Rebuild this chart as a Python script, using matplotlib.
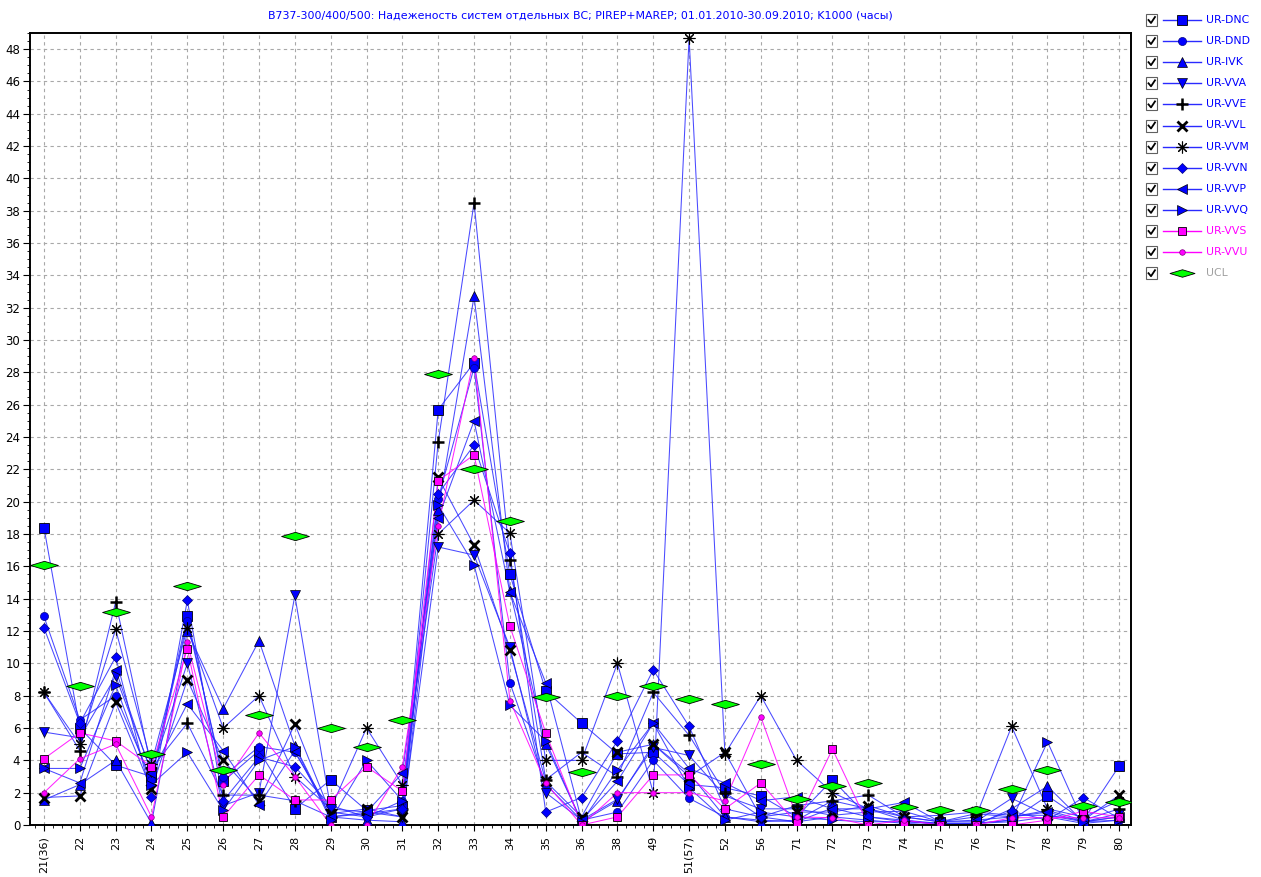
import numpy as np
import matplotlib
matplotlib.use("Agg")
import matplotlib.pyplot as plt
from matplotlib.path import Path
from matplotlib.lines import Line2D
from matplotlib.patches import Rectangle

categories = ["21(36)", "22", "23", "24", "25", "26", "27", "28", "29", "30", "31",
              "32", "33", "34", "35", "36", "38", "49", "51(57)", "52", "56", "71",
              "72", "73", "74", "75", "76", "77", "78", "79", "80"]

ur_dnc = [18.4, 6.0, 3.7, 3.0, 12.9, 2.7, 4.6, 1.0, 2.8, 0.9, 1.2, 25.7, 28.6, 15.5, 8.3, 6.3,
          4.4, 4.5, 2.5, 2.3, 1.8, 0.5, 2.8, 0.5, 0.2, 0.1, 0.1, 0.3, 1.8, 0.3, 3.65]
ur_dnd = [12.9, 6.5, 8.0, 2.8, 12.6, 3.0, 4.85, 4.5, 0.8, 0.5, 1.5, 20.2, 28.3, 8.8, 2.5, 0.3,
          0.8, 4.0, 1.65, 0.5, 0.3, 0.2, 0.5, 0.3, 0.1, 0.0, 0.1, 0.2, 0.5, 0.1, 0.3]
ur_ivk = [1.55, 2.5, 4.0, 0.1, 12.0, 7.2, 11.4, 4.9, 0.5, 0.3, 0.2, 19.5, 32.7, 14.5, 5.0, 0.2,
          1.5, 5.0, 3.2, 0.5, 0.2, 0.3, 1.5, 1.0, 0.3, 0.0, 0.0, 1.0, 2.4, 0.2, 0.5]
ur_vva = [5.75, 5.4, 9.2, 3.3, 10.0, 1.2, 2.0, 14.2, 1.0, 0.8, 0.5, 17.2, 16.7, 11.0, 2.0, 0.3,
          1.6, 4.8, 4.3, 1.8, 1.0, 1.0, 0.6, 0.8, 0.85, 0.2, 0.2, 1.65, 0.6, 0.2, 0.7]
ur_vve = [8.2, 4.6, 13.8, 3.5, 6.3, 1.85, 1.85, 1.5, 0.5, 0.7, 1.0, 23.7, 38.5, 16.4, 2.8, 4.5,
          3.0, 8.2, 5.55, 2.0, 0.5, 1.2, 1.5, 1.85, 0.5, 0.2, 0.7, 0.5, 0.9, 0.3, 1.0]
ur_vvl = [1.7, 1.8, 7.6, 2.2, 9.0, 4.0, 1.5, 6.25, 0.7, 1.0, 0.5, 21.5, 17.3, 10.8, 2.7, 0.5,
          4.5, 5.0, 3.0, 4.5, 0.5, 0.8, 0.8, 1.2, 0.5, 0.6, 0.8, 0.6, 0.6, 0.3, 1.85]
ur_vvm = [8.2, 5.0, 12.1, 3.8, 12.2, 6.0, 8.0, 3.0, 1.0, 6.0, 2.5, 18.0, 20.1, 18.05, 4.0, 4.0,
          10.0, 2.0, 48.7, 4.4, 8.0, 4.0, 2.0, 1.0, 0.5, 0.2, 0.5, 6.1, 1.0, 0.5, 1.5]
ur_vvn = [12.2, 6.3, 10.4, 1.75, 13.9, 1.5, 4.2, 3.6, 1.2, 0.5, 1.0, 20.5, 23.5, 16.8, 0.8, 1.7,
          5.2, 9.6, 6.1, 1.0, 0.5, 0.2, 1.05, 0.5, 0.3, 0.1, 0.1, 0.85, 0.3, 1.7, 0.4]
ur_vvp = [3.5, 2.6, 9.6, 3.2, 7.5, 4.6, 1.25, 4.6, 0.5, 0.8, 3.2, 19.0, 25.0, 14.4, 8.8, 0.3,
          2.7, 6.3, 3.5, 2.6, 1.5, 1.75, 1.0, 1.0, 1.4, 0.2, 0.3, 0.5, 0.8, 0.2, 0.5]
ur_vvq = [3.5, 3.5, 8.65, 2.5, 4.5, 0.9, 4.0, 4.85, 0.3, 4.0, 1.5, 19.8, 16.1, 7.4, 5.2, 0.2,
          3.4, 6.3, 2.3, 0.3, 0.8, 0.5, 0.3, 0.2, 0.2, 0.1, 0.1, 0.3, 5.15, 0.2, 0.3]
ur_vvs = [4.1, 5.7, 5.2, 3.6, 10.9, 0.5, 3.1, 1.55, 1.55, 3.6, 2.1, 21.3, 22.9, 12.3, 5.7, 0.0,
          0.5, 3.1, 3.1, 1.0, 2.6, 0.1, 4.7, 0.0, 0.0, 0.0, 0.0, 0.0, 0.3, 0.85, 0.5]
ur_vvu = [2.0, 4.1, 5.0, 0.5, 11.3, 2.5, 5.7, 3.0, 0.0, 0.0, 3.6, 18.5, 28.9, 7.7, 2.6, 0.0,
          2.0, 2.0, 2.0, 1.5, 6.7, 0.5, 0.45, 0.0, 0.3, 0.0, 0.0, 0.45, 0.45, 0.45, 0.45]
ucl = [16.1, 8.6, 13.2, 4.4, 14.8, 3.4, 6.8, 17.9, 6.0, 4.8, 6.5, 27.9, 22.0, 18.8, 7.9, 3.3,
       8.0, 8.6, 7.8, 7.5, 3.8, 1.6, 2.4, 2.6, 1.1, 0.9, 0.9, 2.2, 3.4, 1.2, 1.4]

names = ["UR-DNC", "UR-DND", "UR-IVK", "UR-VVA", "UR-VVE", "UR-VVL", "UR-VVM",
         "UR-VVN", "UR-VVP", "UR-VVQ", "UR-VVS", "UR-VVU"]
values = [ur_dnc, ur_dnd, ur_ivk, ur_vva, ur_vve, ur_vvl, ur_vvm, ur_vvn, ur_vvp,
          ur_vvq, ur_vvs, ur_vvu]

title = ("B737-300/400/500: Надеженость систем отдельных ВС; PIREP+MAREP; "
         "01.01.2010-30.09.2010; K1000 (часы)")

BLUE = "#0000ff"
LBLUE = "#2a2aff"
MAG = "#ff00ff"

styles = [
    dict(marker="s", ms=6.5, mfc=BLUE, mec="black", mew=0.6, lc=LBLUE),
    dict(marker="o", ms=5.8, mfc=BLUE, mec="#000080", mew=0.5, lc=LBLUE),
    dict(marker="^", ms=7, mfc=BLUE, mec="black", mew=0.5, lc=LBLUE),
    dict(marker="v", ms=7, mfc=BLUE, mec="black", mew=0.5, lc=LBLUE),
    dict(marker="+", ms=8.5, mfc="black", mec="black", mew=1.8, lc=LBLUE),
    dict(marker="x", ms=7, mfc="black", mec="black", mew=2.0, lc=LBLUE),
    dict(marker=(8, 2, 0), ms=8.5, mfc="black", mec="black", mew=0.8, lc=LBLUE),
    dict(marker="D", ms=5.2, mfc=BLUE, mec="#000080", mew=0.5, lc=LBLUE),
    dict(marker="<", ms=7, mfc=BLUE, mec="black", mew=0.5, lc=LBLUE),
    dict(marker=">", ms=7, mfc=BLUE, mec="black", mew=0.5, lc=LBLUE),
    dict(marker="s", ms=5.2, mfc=MAG, mec="black", mew=0.6, lc=MAG),
    dict(marker="o", ms=4.0, mfc=MAG, mec="#800080", mew=0.5, lc=MAG),
]
label_colors = [BLUE] * 10 + [MAG, MAG]

ucl_marker = Path([(-1, 0), (0, 0.3), (1, 0), (0, -0.3), (-1, 0)],
                  [Path.MOVETO, Path.LINETO, Path.LINETO, Path.LINETO, Path.CLOSEPOLY])

W, H = 1261, 877
fig = plt.figure(figsize=(W / 100, H / 100), dpi=100)
fig.patch.set_facecolor("white")

L, R, T, B = 30, 1131, 33, 825
ax = fig.add_axes([L / W, 1 - B / H, (R - L) / W, (B - T) / H])

x = np.arange(len(categories))
for vals, st in zip(values, styles):
    ax.plot(x, vals, color=st["lc"], lw=0.75, alpha=0.85, zorder=2)
for vals, st in zip(values, styles):
    ax.plot(x, vals, linestyle="none", marker=st["marker"], ms=st["ms"],
            mfc=st["mfc"], mec=st["mec"], mew=st["mew"], zorder=3)
ax.plot(x, ucl, linestyle="none", marker=ucl_marker, ms=20, mfc="#00ff00",
        mec="black", mew=0.6, zorder=4)

ax.set_xlim(-0.39, 30.33)
ax.set_ylim(0, 49)
ax.set_xticks(x)
ax.set_xticklabels(categories, rotation=90, fontsize=8)
ax.set_xticks(np.arange(-0.25, 30.3, 0.25), minor=True)
ax.set_yticks(np.arange(0, 49, 2))
ax.set_yticks(np.arange(0, 49.01, 0.5), minor=True)
ax.tick_params(axis="y", which="major", direction="out", length=5, labelsize=8.5, pad=2)
ax.tick_params(axis="y", which="minor", direction="out", length=2.5)
ax.tick_params(axis="x", which="major", direction="out", length=4, pad=4)
ax.tick_params(axis="x", which="minor", direction="out", length=2)
ax.grid(True, which="major", linestyle=(0, (3, 3)), color="#a8a8a8", lw=0.8)
ax.set_axisbelow(True)
for sp in ax.spines.values():
    sp.set_linewidth(1.4)
    sp.set_color("black")

fig.text(580 / W, 1 - 15 / H, title, color=BLUE, fontsize=7.9, ha="center", va="center")


def fx(px):
    return px / W


def fy(py):
    return 1 - py / H


row_y = [20 + 21.1 * i for i in range(13)]
legend_names = names + ["UCL"]
for i, name in enumerate(legend_names):
    yy = row_y[i]
    fig.add_artist(Rectangle((fx(1146), fy(yy + 6)), 11 / W, 12 / H, transform=fig.transFigure,
                             facecolor="white", edgecolor="#606060", lw=0.8))
    fig.add_artist(Line2D([fx(1148.5), fx(1151), fx(1155)], [fy(yy), fy(yy + 3), fy(yy - 3)],
                          transform=fig.transFigure, color="black", lw=1.3))
    if i < 12:
        st = styles[i]
        fig.add_artist(Line2D([fx(1163), fx(1201)], [fy(yy), fy(yy)], transform=fig.transFigure,
                              color=st["lc"], lw=1.0))
        fig.add_artist(Line2D([fx(1182)], [fy(yy)], transform=fig.transFigure, linestyle="none",
                              marker=st["marker"], ms=st["ms"], mfc=st["mfc"], mec=st["mec"],
                              mew=st["mew"]))
        fig.text(fx(1206), fy(yy), name, color=label_colors[i], fontsize=7.8, va="center", ha="left")
    else:
        fig.add_artist(Line2D([fx(1182)], [fy(yy)], transform=fig.transFigure, linestyle="none",
                              marker=ucl_marker, ms=18, mfc="#00ff00", mec="black", mew=0.6))
        fig.text(fx(1206), fy(yy), name, color="#a0a0a0", fontsize=7.8, va="center", ha="left")

fig.savefig("out.png", dpi=100)
